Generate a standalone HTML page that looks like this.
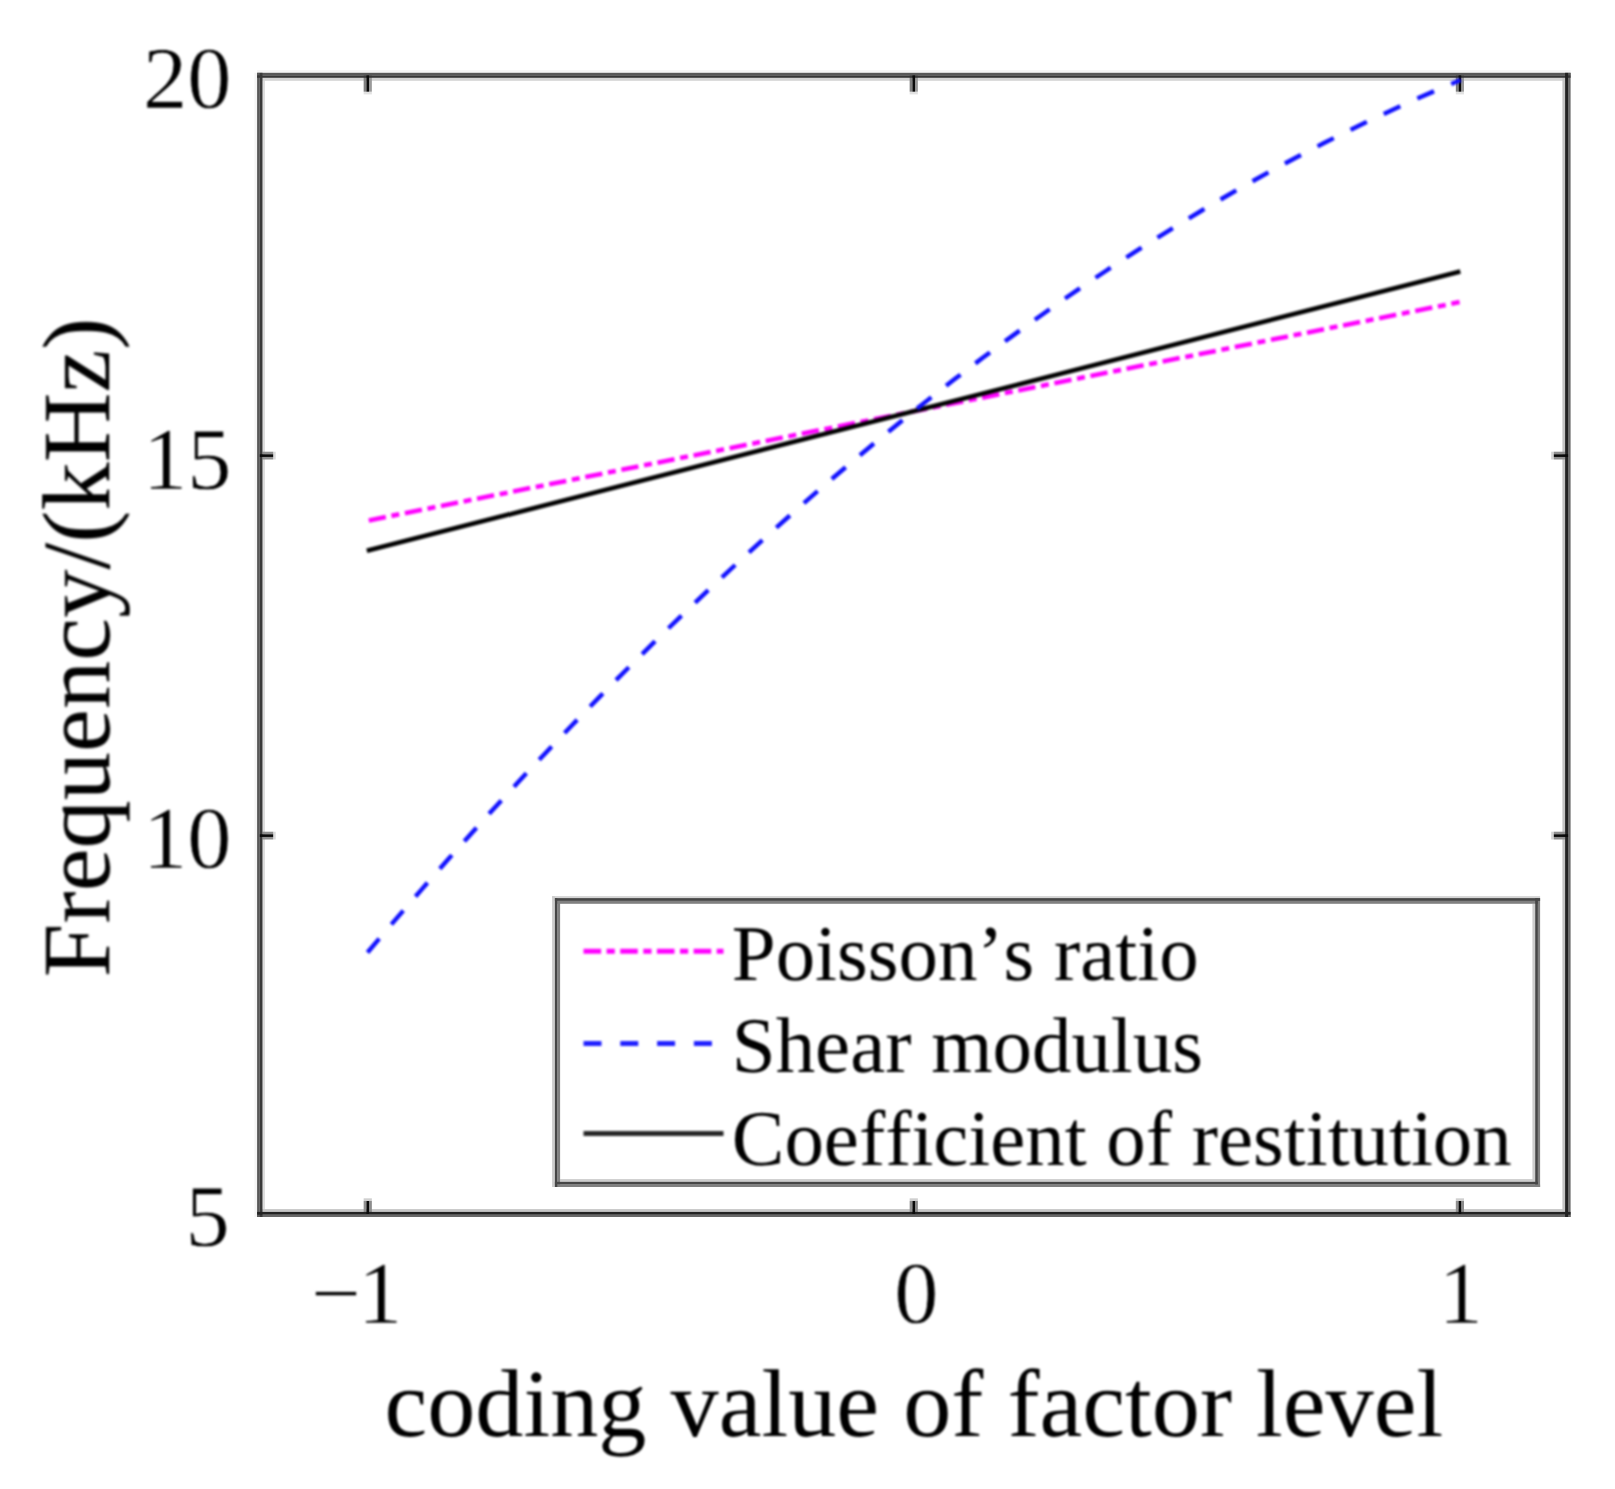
<!DOCTYPE html>
<html lang="en">
<head>
<meta charset="utf-8">
<title>Frequency vs coding value of factor level</title>
<style>
html,body{margin:0;padding:0;background:#ffffff;}
body{width:1615px;height:1489px;overflow:hidden;}
svg{display:block;}
text{font-family:"Liberation Serif","Times New Roman",Times,serif;fill:#000000;font-kerning:none;font-variant-ligatures:none;text-rendering:geometricPrecision;}
.tk text{font-size:88.5px;stroke:#ffffff;stroke-width:0.7px;stroke-linejoin:round;}
.lt text{font-size:78.9px;}
.al{font-size:96.3px;}
</style>
</head>
<body>
<svg width="1615" height="1489" viewBox="0 0 1615 1489">
<defs>
<filter id="fa" x="-2%" y="-2%" width="104%" height="104%" color-interpolation-filters="sRGB"><feGaussianBlur stdDeviation="0.5"/></filter>
<filter id="fb" x="-2%" y="-2%" width="104%" height="104%" color-interpolation-filters="sRGB"><feGaussianBlur stdDeviation="0.85"/></filter>
</defs>
<rect x="0" y="0" width="1615" height="1489" fill="#ffffff"/>
<g id="axes" shape-rendering="geometricPrecision" filter="url(#fa)">
<rect x="257.10" y="70.10" width="1313.50" height="2.70" fill="#f5f5f5"/>
<rect x="254.40" y="72.80" width="2.70" height="1144.20" fill="#f5f5f5"/>
<rect x="363.65" y="91.70" width="8.20" height="2.70" fill="#e2e2e2"/>
<rect x="909.65" y="91.70" width="8.20" height="2.70" fill="#e2e2e2"/>
<rect x="1455.80" y="91.70" width="8.20" height="2.70" fill="#e2e2e2"/>
<rect x="262.50" y="77.80" width="2.50" height="1134.20" fill="#dedede"/>
<rect x="273.20" y="451.70" width="2.50" height="7.80" fill="#dcdcdc"/>
<rect x="273.20" y="831.70" width="2.50" height="7.80" fill="#dcdcdc"/>
<rect x="262.10" y="77.80" width="1303.50" height="3.00" fill="#d4d4d4"/>
<rect x="1551.20" y="451.70" width="2.60" height="7.80" fill="#d4d4d4"/>
<rect x="1551.20" y="831.70" width="2.60" height="7.80" fill="#d4d4d4"/>
<rect x="363.65" y="1198.30" width="8.20" height="2.70" fill="#d0d0d0"/>
<rect x="909.65" y="1198.30" width="8.20" height="2.70" fill="#d0d0d0"/>
<rect x="1455.80" y="1198.30" width="8.20" height="2.70" fill="#d0d0d0"/>
<rect x="262.10" y="1209.10" width="1303.50" height="2.80" fill="#c6c6c6"/>
<rect x="1562.40" y="77.80" width="2.70" height="1134.20" fill="#c4c4c4"/>
<rect x="369.10" y="75.30" width="2.75" height="16.40" fill="#9a9a9a"/>
<rect x="915.10" y="75.30" width="2.75" height="16.40" fill="#9a9a9a"/>
<rect x="1461.25" y="75.30" width="2.75" height="16.40" fill="#9a9a9a"/>
<rect x="363.65" y="1201.00" width="2.75" height="11.00" fill="#909090"/>
<rect x="909.65" y="1201.00" width="2.75" height="11.00" fill="#909090"/>
<rect x="1455.80" y="1201.00" width="2.75" height="11.00" fill="#909090"/>
<rect x="262.50" y="451.70" width="10.70" height="2.55" fill="#8e8e8e"/>
<rect x="262.50" y="456.95" width="10.70" height="2.55" fill="#8e8e8e"/>
<rect x="1553.80" y="451.70" width="11.30" height="2.55" fill="#8e8e8e"/>
<rect x="1553.80" y="456.95" width="11.30" height="2.55" fill="#8e8e8e"/>
<rect x="262.50" y="831.70" width="10.70" height="2.55" fill="#8e8e8e"/>
<rect x="262.50" y="836.95" width="10.70" height="2.55" fill="#8e8e8e"/>
<rect x="1553.80" y="831.70" width="11.30" height="2.55" fill="#8e8e8e"/>
<rect x="1553.80" y="836.95" width="11.30" height="2.55" fill="#8e8e8e"/>
<rect x="369.10" y="1201.00" width="2.75" height="11.00" fill="#8c8c8c"/>
<rect x="915.10" y="1201.00" width="2.75" height="11.00" fill="#8c8c8c"/>
<rect x="1461.25" y="1201.00" width="2.75" height="11.00" fill="#8c8c8c"/>
<rect x="363.65" y="75.30" width="2.75" height="16.40" fill="#808080"/>
<rect x="909.65" y="75.30" width="2.75" height="16.40" fill="#808080"/>
<rect x="1455.80" y="75.30" width="2.75" height="16.40" fill="#808080"/>
<rect x="1568.10" y="72.80" width="2.50" height="1144.20" fill="#6a6a6a"/>
<rect x="257.10" y="1214.70" width="1313.50" height="2.30" fill="#686868"/>
<rect x="257.10" y="72.80" width="1313.50" height="2.50" fill="#585858"/>
<rect x="257.10" y="72.80" width="2.70" height="1144.20" fill="#585858"/>
<rect x="259.80" y="72.80" width="2.70" height="1144.20" fill="#3a3a3a"/>
<rect x="257.10" y="75.30" width="1313.50" height="2.50" fill="#363636"/>
<rect x="1565.10" y="72.80" width="3.00" height="1144.20" fill="#222222"/>
<rect x="257.10" y="1211.90" width="1313.50" height="2.80" fill="#222222"/>
<rect x="366.40" y="75.30" width="2.70" height="16.40" fill="#0a0a0a"/>
<rect x="366.40" y="1201.00" width="2.70" height="13.00" fill="#0a0a0a"/>
<rect x="912.40" y="75.30" width="2.70" height="16.40" fill="#0a0a0a"/>
<rect x="912.40" y="1201.00" width="2.70" height="13.00" fill="#0a0a0a"/>
<rect x="1458.55" y="75.30" width="2.70" height="16.40" fill="#0a0a0a"/>
<rect x="1458.55" y="1201.00" width="2.70" height="13.00" fill="#0a0a0a"/>
<rect x="259.80" y="454.25" width="13.40" height="2.70" fill="#0a0a0a"/>
<rect x="1553.80" y="454.25" width="14.30" height="2.70" fill="#0a0a0a"/>
<rect x="259.80" y="834.25" width="13.40" height="2.70" fill="#0a0a0a"/>
<rect x="1553.80" y="834.25" width="14.30" height="2.70" fill="#0a0a0a"/>
</g>
<g id="curves" fill="none" stroke-width="4.6" filter="url(#fb)">
<path d="M366.8,520.8 L1459.6,302.1" stroke="#ff00ff" stroke-dasharray="17.4 5.7 8 5.7" stroke-dashoffset="-2"/>
<path d="M366.8,550.8 L1460.3,271.6" stroke="#000000"/>
<path d="M367.50,952.48 L381.16,936.38 L394.83,920.41 L408.49,904.57 L422.15,888.86 L435.82,873.28 L449.48,857.83 L463.15,842.52 L476.81,827.34 L490.47,812.28 L504.14,797.37 L517.80,782.58 L531.46,767.92 L545.13,753.40 L558.79,739.00 L572.46,724.74 L586.12,710.61 L599.78,696.61 L613.45,682.75 L627.11,669.01 L640.77,655.41 L654.44,641.94 L668.10,628.60 L681.77,615.39 L695.43,602.31 L709.09,589.37 L722.76,576.55 L736.42,563.87 L750.08,551.32 L763.75,538.90 L777.41,526.62 L791.08,514.46 L804.74,502.44 L818.40,490.54 L832.07,478.78 L845.73,467.15 L859.39,455.66 L873.06,444.29 L886.72,433.06 L900.39,421.96 L914.05,410.98 L927.71,400.15 L941.38,389.44 L955.04,378.86 L968.70,368.42 L982.37,358.10 L996.03,347.92 L1009.70,337.87 L1023.36,327.96 L1037.02,318.17 L1050.69,308.52 L1064.35,298.99 L1078.01,289.60 L1091.68,280.34 L1105.34,271.21 L1119.01,262.22 L1132.67,253.35 L1146.33,244.62 L1160.00,236.02 L1173.66,227.55 L1187.33,219.21 L1200.99,211.00 L1214.65,202.93 L1228.32,194.98 L1241.98,187.17 L1255.64,179.49 L1269.31,171.94 L1282.97,164.53 L1296.63,157.24 L1310.30,150.09 L1323.96,143.07 L1337.63,136.18 L1351.29,129.42 L1364.95,122.79 L1378.62,116.29 L1392.28,109.93 L1405.94,103.70 L1419.61,97.60 L1433.27,91.63 L1446.94,85.79 L1460.60,80.08" stroke="#1010ff" stroke-width="4.4" stroke-dasharray="18.2 18.68"/>
</g>
<g id="legend">
<rect x="555" y="899" width="982" height="285" fill="#ffffff"/>
<g filter="url(#fa)">
<rect x="552.10" y="896.10" width="988.00" height="2.00" fill="#d4d4d4"/>
<rect x="552.10" y="896.10" width="2.80" height="290.90" fill="#cdcdcd"/>
<rect x="1532.40" y="903.80" width="2.80" height="278.00" fill="#cdcdcd"/>
<rect x="560.10" y="1179.10" width="975.10" height="2.70" fill="#cdcdcd"/>
<rect x="557.30" y="900.90" width="980.60" height="2.90" fill="#808080"/>
<rect x="557.30" y="900.90" width="2.80" height="283.60" fill="#808080"/>
<rect x="1537.90" y="898.10" width="2.20" height="288.90" fill="#808080"/>
<rect x="554.90" y="1184.50" width="985.20" height="2.50" fill="#808080"/>
<rect x="554.90" y="898.10" width="985.20" height="2.80" fill="#464646"/>
<rect x="554.90" y="898.10" width="2.40" height="288.90" fill="#464646"/>
<rect x="1535.20" y="898.10" width="2.70" height="286.40" fill="#464646"/>
<rect x="554.90" y="1181.80" width="983.00" height="2.70" fill="#464646"/>
</g>
<g filter="url(#fb)">
<path d="M583.5,951.3 H723.5" stroke="#ff00ff" stroke-width="5" stroke-dasharray="17.6 5.5 8.2 5.4" fill="none"/>
<path d="M583.5,1043.5 H723.5" stroke="#2020ff" stroke-width="5" stroke-dasharray="18 18.8" fill="none"/>
<path d="M583.5,1133.6 H723.5" stroke="#262626" stroke-width="5" fill="none"/>
<g class="lt">
<text id="lg1" x="731.8" y="979.8">Poisson’s ratio</text>
<text id="lg2" x="731.8" y="1072">Shear modulus</text>
<text id="lg3" x="731.8" y="1164.8">Coefficient of restitution</text>
</g>
</g>
</g>
<g filter="url(#fb)">
<g class="tk">
<text id="y20" x="143" y="107.5">20</text>
<text id="y15" x="143" y="488.5">15</text>
<text id="y10" x="143" y="867.5">10</text>
<text id="y5" x="185.5" y="1246">5</text>
<text id="xm1" y="1322.7"><tspan x="311">−</tspan><tspan x="358">1</tspan></text>
<text id="x0" x="894.3" y="1322.7">0</text>
<text id="x1" x="1438.5" y="1322.7">1</text>
</g>
<text id="xl" class="al" x="384.4" y="1436">coding value of factor level</text>
<text id="yl" class="al" style="font-size:96.6px" transform="translate(109.2,977.3) rotate(-90)">Frequency/(kHz)</text>
</g>
</svg>
</body>
</html>
